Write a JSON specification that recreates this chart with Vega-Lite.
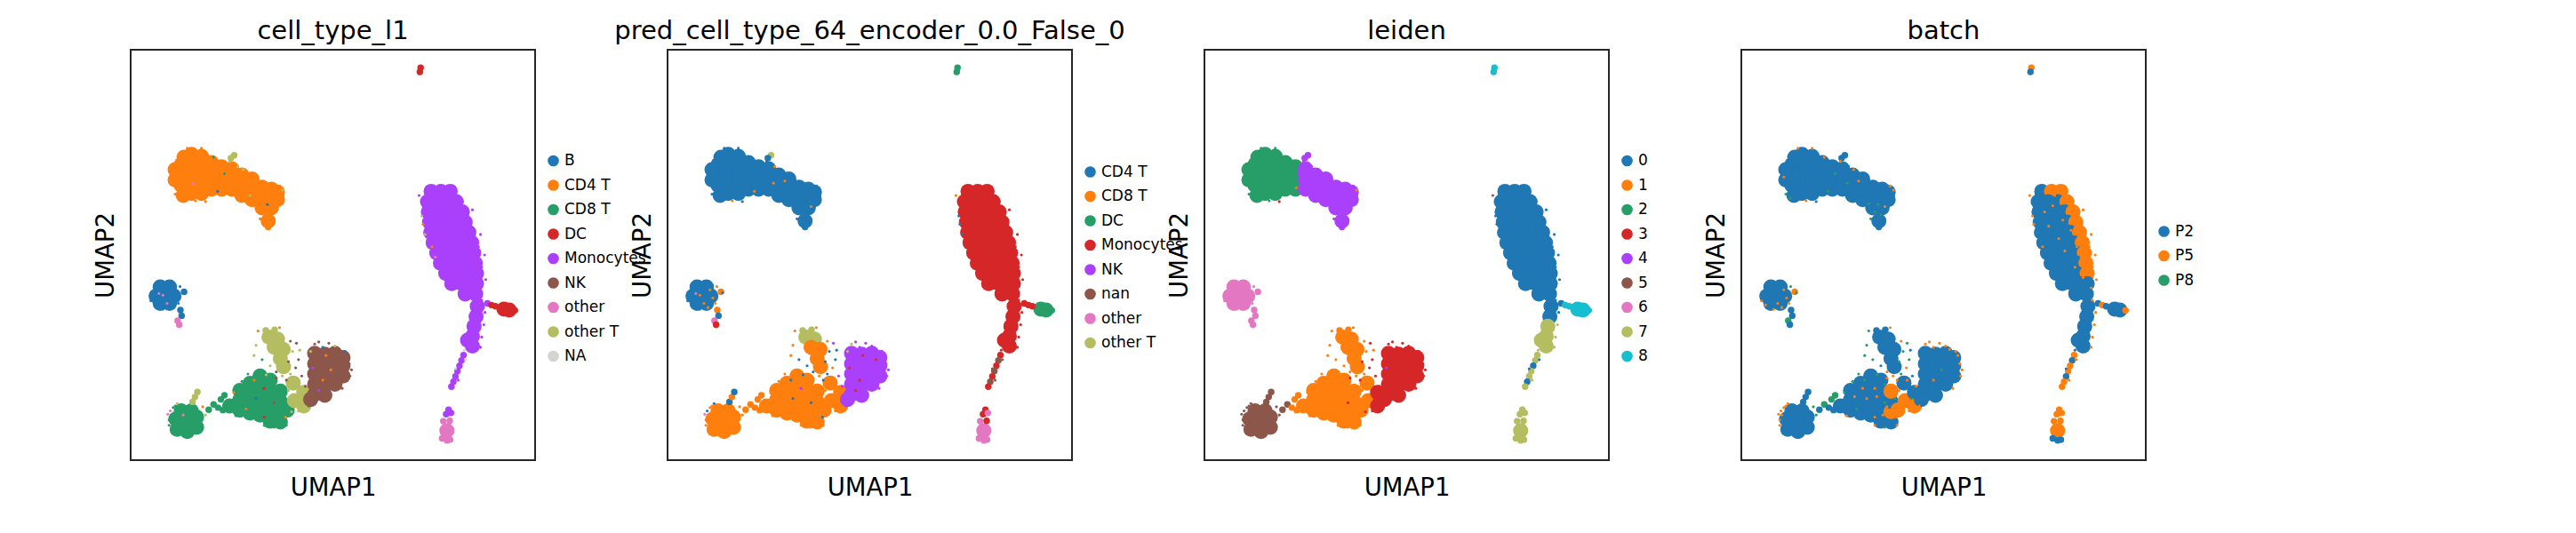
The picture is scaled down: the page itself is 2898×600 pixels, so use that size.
{
"$schema": "https://vega.github.io/schema/vega-lite/v6.json",
"padding": {"left": 104, "top": 20, "right": 5, "bottom": 5},
"bounds": "flush",
"spacing": 149,
"resolve": {"scale": {"color": "independent"}, "legend": {"color": "independent"}},
"config": {
  "font": "DejaVu Sans",
  "view": {"stroke": "#262626", "strokeWidth": 2},
  "axis": {"domain": false, "ticks": false, "labels": false, "grid": false, "titleFontSize": 27.5, "titleFontWeight": "normal", "titleColor": "#000000", "titlePadding": 14, "titleFont": "DejaVu Sans"},
  "axisX": {"titlePadding": 17},
  "title": {"fontSize": 29, "fontWeight": "normal", "color": "#000000", "offset": 6, "font": "DejaVu Sans"},
  "legend": {"orient": "none", "symbolType": "circle", "symbolSize": 160, "symbolOpacity": 1, "symbolStrokeWidth": 0, "labelFontSize": 17, "labelFont": "DejaVu Sans", "labelColor": "#000000", "rowPadding": 9.5, "padding": 0, "labelOffset": 4, "labelLimit": 300}
},
"datasets": {
"core": [
{"x":12.5,"y":67,"ct":"CD4 T","pred":"CD4 T","leiden":"2","batch":"P2"},
{"x":12.5,"y":69.5,"ct":"CD4 T","pred":"CD4 T","leiden":"2","batch":"P2"},
{"x":12.5,"y":72,"ct":"CD4 T","pred":"CD4 T","leiden":"2","batch":"P2"},
{"x":11,"y":68.3,"ct":"CD4 T","pred":"CD4 T","leiden":"2","batch":"P2"},
{"x":11,"y":70.8,"ct":"CD4 T","pred":"CD4 T","leiden":"2","batch":"P2"},
{"x":15,"y":65,"ct":"CD4 T","pred":"CD4 T","leiden":"2","batch":"P2"},
{"x":15,"y":67.5,"ct":"CD4 T","pred":"CD4 T","leiden":"2","batch":"P2"},
{"x":15,"y":70,"ct":"CD4 T","pred":"CD4 T","leiden":"2","batch":"P2"},
{"x":15,"y":72.5,"ct":"CD4 T","pred":"CD4 T","leiden":"2","batch":"P2"},
{"x":15,"y":74.5,"ct":"CD4 T","pred":"CD4 T","leiden":"2","batch":"P2"},
{"x":17.5,"y":65,"ct":"CD4 T","pred":"CD4 T","leiden":"2","batch":"P2"},
{"x":17.5,"y":67.5,"ct":"CD4 T","pred":"CD4 T","leiden":"2","batch":"P2"},
{"x":17.5,"y":70,"ct":"CD4 T","pred":"CD4 T","leiden":"2","batch":"P2"},
{"x":17.5,"y":72.5,"ct":"CD4 T","pred":"CD4 T","leiden":"2","batch":"P2"},
{"x":17.5,"y":74,"ct":"CD4 T","pred":"CD4 T","leiden":"2","batch":"P2"},
{"x":13,"y":64.5,"ct":"CD4 T","pred":"CD4 T","leiden":"2","batch":"P2"},
{"x":13.2,"y":73.8,"ct":"CD4 T","pred":"CD4 T","leiden":"2","batch":"P2"},
{"x":20,"y":66,"ct":"CD4 T","pred":"CD4 T","leiden":"2","batch":"P2"},
{"x":20,"y":68.5,"ct":"CD4 T","pred":"CD4 T","leiden":"2","batch":"P2"},
{"x":20,"y":71,"ct":"CD4 T","pred":"CD4 T","leiden":"2","batch":"P2"},
{"x":20,"y":72.5,"ct":"CD4 T","pred":"CD4 T","leiden":"2","batch":"P2"},
{"x":22.5,"y":66,"ct":"CD4 T","pred":"CD4 T","leiden":"2","batch":"P2"},
{"x":22.5,"y":68.5,"ct":"CD4 T","pred":"CD4 T","leiden":"2","batch":"P2"},
{"x":22.5,"y":71.5,"ct":"CD4 T","pred":"CD4 T","leiden":"2","batch":"P2"},
{"x":25,"y":66,"ct":"CD4 T","pred":"CD4 T","leiden":"4","batch":"P2"},
{"x":25,"y":68.5,"ct":"CD4 T","pred":"CD4 T","leiden":"4","batch":"P2"},
{"x":25,"y":71,"ct":"CD4 T","pred":"CD4 T","leiden":"4","batch":"P2"},
{"x":27.5,"y":64.5,"ct":"CD4 T","pred":"CD4 T","leiden":"4","batch":"P2"},
{"x":27.5,"y":67,"ct":"CD4 T","pred":"CD4 T","leiden":"4","batch":"P2"},
{"x":27.5,"y":69.5,"ct":"CD4 T","pred":"CD4 T","leiden":"4","batch":"P2"},
{"x":30,"y":63.5,"ct":"CD4 T","pred":"CD4 T","leiden":"4","batch":"P2"},
{"x":30,"y":66,"ct":"CD4 T","pred":"CD4 T","leiden":"4","batch":"P2"},
{"x":30,"y":68.5,"ct":"CD4 T","pred":"CD4 T","leiden":"4","batch":"P2"},
{"x":32.5,"y":61.5,"ct":"CD4 T","pred":"CD4 T","leiden":"4","batch":"P2"},
{"x":32.5,"y":64,"ct":"CD4 T","pred":"CD4 T","leiden":"4","batch":"P2"},
{"x":32.5,"y":66.5,"ct":"CD4 T","pred":"CD4 T","leiden":"4","batch":"P2"},
{"x":34.8,"y":61.5,"ct":"CD4 T","pred":"CD4 T","leiden":"4","batch":"P2"},
{"x":34.8,"y":64,"ct":"CD4 T","pred":"CD4 T","leiden":"4","batch":"P2"},
{"x":34.8,"y":66,"ct":"CD4 T","pred":"CD4 T","leiden":"4","batch":"P2"},
{"x":36.3,"y":63.5,"ct":"CD4 T","pred":"CD4 T","leiden":"4","batch":"P2"},
{"x":36.3,"y":65.3,"ct":"CD4 T","pred":"CD4 T","leiden":"4","batch":"P2"},
{"x":34,"y":58.3,"ct":"CD4 T","pred":"CD4 T","leiden":"4","batch":"P2"},
{"x":6.3,"y":40,"ct":"B","pred":"CD4 T","leiden":"6","batch":"P2"},
{"x":8.5,"y":40,"ct":"B","pred":"CD4 T","leiden":"6","batch":"P2"},
{"x":10.7,"y":40,"ct":"B","pred":"CD4 T","leiden":"6","batch":"P2"},
{"x":7.3,"y":42.2,"ct":"B","pred":"CD4 T","leiden":"6","batch":"P2"},
{"x":9.6,"y":42.2,"ct":"B","pred":"CD4 T","leiden":"6","batch":"P2"},
{"x":7.3,"y":38.2,"ct":"B","pred":"CD4 T","leiden":"6","batch":"P2"},
{"x":9.6,"y":38.2,"ct":"B","pred":"CD4 T","leiden":"6","batch":"P2"},
{"x":11.5,"y":7.5,"ct":"CD8 T","pred":"CD8 T","leiden":"5","batch":"P2"},
{"x":14,"y":7,"ct":"CD8 T","pred":"CD8 T","leiden":"5","batch":"P2"},
{"x":16.3,"y":8,"ct":"CD8 T","pred":"CD8 T","leiden":"5","batch":"P2"},
{"x":11.2,"y":10,"ct":"CD8 T","pred":"CD8 T","leiden":"5","batch":"P2"},
{"x":13.7,"y":9.5,"ct":"CD8 T","pred":"CD8 T","leiden":"5","batch":"P2"},
{"x":16.3,"y":10.5,"ct":"CD8 T","pred":"CD8 T","leiden":"5","batch":"P2"},
{"x":12.5,"y":12,"ct":"CD8 T","pred":"CD8 T","leiden":"5","batch":"P2"},
{"x":15,"y":12,"ct":"CD8 T","pred":"CD8 T","leiden":"5","batch":"P2"},
{"x":24.5,"y":13.2,"ct":"CD8 T","pred":"CD8 T","leiden":"1","batch":"P2"},
{"x":27,"y":12.2,"ct":"CD8 T","pred":"CD8 T","leiden":"1","batch":"P2"},
{"x":27,"y":14.7,"ct":"CD8 T","pred":"CD8 T","leiden":"1","batch":"P2"},
{"x":27,"y":17,"ct":"CD8 T","pred":"CD8 T","leiden":"1","batch":"P2"},
{"x":29.5,"y":11.5,"ct":"CD8 T","pred":"CD8 T","leiden":"1","batch":"P2"},
{"x":29.5,"y":14,"ct":"CD8 T","pred":"CD8 T","leiden":"1","batch":"P2"},
{"x":29.5,"y":16.5,"ct":"CD8 T","pred":"CD8 T","leiden":"1","batch":"P2"},
{"x":29.5,"y":18.7,"ct":"CD8 T","pred":"CD8 T","leiden":"1","batch":"P2"},
{"x":32,"y":11,"ct":"CD8 T","pred":"CD8 T","leiden":"1","batch":"P2"},
{"x":32,"y":13.5,"ct":"CD8 T","pred":"CD8 T","leiden":"1","batch":"P2"},
{"x":32,"y":16,"ct":"CD8 T","pred":"CD8 T","leiden":"1","batch":"P2"},
{"x":32,"y":18.5,"ct":"CD8 T","pred":"CD8 T","leiden":"1","batch":"P2"},
{"x":32,"y":20.5,"ct":"CD8 T","pred":"CD8 T","leiden":"1","batch":"P2"},
{"x":34.5,"y":9.5,"ct":"CD8 T","pred":"CD8 T","leiden":"1","batch":"P2"},
{"x":34.5,"y":12,"ct":"CD8 T","pred":"CD8 T","leiden":"1","batch":"P2"},
{"x":34.5,"y":14.5,"ct":"CD8 T","pred":"CD8 T","leiden":"1","batch":"P2"},
{"x":34.5,"y":17,"ct":"CD8 T","pred":"CD8 T","leiden":"1","batch":"P2"},
{"x":34.5,"y":19.5,"ct":"CD8 T","pred":"CD8 T","leiden":"1","batch":"P2"},
{"x":37,"y":9.3,"ct":"CD8 T","pred":"CD8 T","leiden":"1","batch":"P2"},
{"x":37,"y":11.8,"ct":"CD8 T","pred":"CD8 T","leiden":"1","batch":"P5"},
{"x":37,"y":14.3,"ct":"CD8 T","pred":"CD8 T","leiden":"1","batch":"P2"},
{"x":37,"y":16.8,"ct":"CD8 T","pred":"CD8 T","leiden":"1","batch":"P5"},
{"x":38.7,"y":12.2,"ct":"CD8 T","pred":"CD8 T","leiden":"1","batch":"P5"},
{"x":34.2,"y":30,"ct":"other T","pred":"other T","leiden":"1","batch":"P2"},
{"x":36.3,"y":29.5,"ct":"other T","pred":"other T","leiden":"1","batch":"P2"},
{"x":35.5,"y":27.5,"ct":"other T","pred":"CD8 T","leiden":"1","batch":"P2"},
{"x":37.7,"y":27,"ct":"other T","pred":"CD8 T","leiden":"1","batch":"P2"},
{"x":37,"y":24.8,"ct":"other T","pred":"CD8 T","leiden":"1","batch":"P2"},
{"x":37.8,"y":22.8,"ct":"other T","pred":"CD8 T","leiden":"1","batch":"P2"},
{"x":40.2,"y":18.8,"ct":"other T","pred":"CD8 T","leiden":"1","batch":"P2"},
{"x":40.5,"y":14.5,"ct":"other T","pred":"CD8 T","leiden":"1","batch":"P5"},
{"x":42.8,"y":16.5,"ct":"other T","pred":"CD8 T","leiden":"3","batch":"P2"},
{"x":42.8,"y":13.2,"ct":"other T","pred":"CD8 T","leiden":"3","batch":"P5"},
{"x":45.5,"y":16,"ct":"NK","pred":"NK","leiden":"3","batch":"P2"},
{"x":45.5,"y":18.5,"ct":"NK","pred":"NK","leiden":"3","batch":"P2"},
{"x":45.5,"y":21,"ct":"NK","pred":"NK","leiden":"3","batch":"P2"},
{"x":45.5,"y":23.5,"ct":"NK","pred":"NK","leiden":"3","batch":"P2"},
{"x":45.5,"y":26,"ct":"NK","pred":"NK","leiden":"3","batch":"P2"},
{"x":48,"y":15.8,"ct":"NK","pred":"NK","leiden":"3","batch":"P2"},
{"x":48,"y":18.3,"ct":"NK","pred":"NK","leiden":"3","batch":"P2"},
{"x":48,"y":20.8,"ct":"NK","pred":"NK","leiden":"3","batch":"P2"},
{"x":48,"y":23.3,"ct":"NK","pred":"NK","leiden":"3","batch":"P2"},
{"x":48,"y":25.8,"ct":"NK","pred":"NK","leiden":"3","batch":"P2"},
{"x":50.5,"y":18.5,"ct":"NK","pred":"NK","leiden":"3","batch":"P2"},
{"x":50.5,"y":21,"ct":"NK","pred":"NK","leiden":"3","batch":"P2"},
{"x":50.5,"y":23.5,"ct":"NK","pred":"NK","leiden":"3","batch":"P2"},
{"x":50.5,"y":26,"ct":"NK","pred":"NK","leiden":"3","batch":"P2"},
{"x":52.5,"y":20.5,"ct":"NK","pred":"NK","leiden":"3","batch":"P2"},
{"x":52.5,"y":23,"ct":"NK","pred":"NK","leiden":"3","batch":"P2"},
{"x":52.5,"y":25,"ct":"NK","pred":"NK","leiden":"3","batch":"P2"},
{"x":44.5,"y":14.8,"ct":"NK","pred":"NK","leiden":"3","batch":"P2"},
{"x":74.3,"y":65.5,"ct":"Monocytes","pred":"Monocytes","leiden":"0","batch":"P2"},
{"x":76.7,"y":65.5,"ct":"Monocytes","pred":"Monocytes","leiden":"0","batch":"P5"},
{"x":79,"y":65.5,"ct":"Monocytes","pred":"Monocytes","leiden":"0","batch":"P5"},
{"x":73.4,"y":63,"ct":"Monocytes","pred":"Monocytes","leiden":"0","batch":"P2"},
{"x":75.8,"y":63,"ct":"Monocytes","pred":"Monocytes","leiden":"0","batch":"P2"},
{"x":78.2,"y":63,"ct":"Monocytes","pred":"Monocytes","leiden":"0","batch":"P2"},
{"x":80.5,"y":63,"ct":"Monocytes","pred":"Monocytes","leiden":"0","batch":"P5"},
{"x":73.6,"y":60.5,"ct":"Monocytes","pred":"Monocytes","leiden":"0","batch":"P2"},
{"x":75.7,"y":60.5,"ct":"Monocytes","pred":"Monocytes","leiden":"0","batch":"P2"},
{"x":77.8,"y":60.5,"ct":"Monocytes","pred":"Monocytes","leiden":"0","batch":"P2"},
{"x":79.9,"y":60.5,"ct":"Monocytes","pred":"Monocytes","leiden":"0","batch":"P2"},
{"x":82,"y":60.5,"ct":"Monocytes","pred":"Monocytes","leiden":"0","batch":"P5"},
{"x":73.9,"y":58,"ct":"Monocytes","pred":"Monocytes","leiden":"0","batch":"P2"},
{"x":76.1,"y":58,"ct":"Monocytes","pred":"Monocytes","leiden":"0","batch":"P2"},
{"x":78.3,"y":58,"ct":"Monocytes","pred":"Monocytes","leiden":"0","batch":"P2"},
{"x":80.5,"y":58,"ct":"Monocytes","pred":"Monocytes","leiden":"0","batch":"P2"},
{"x":82.7,"y":58,"ct":"Monocytes","pred":"Monocytes","leiden":"0","batch":"P5"},
{"x":74.2,"y":55.5,"ct":"Monocytes","pred":"Monocytes","leiden":"0","batch":"P2"},
{"x":76.5,"y":55.5,"ct":"Monocytes","pred":"Monocytes","leiden":"0","batch":"P2"},
{"x":78.9,"y":55.5,"ct":"Monocytes","pred":"Monocytes","leiden":"0","batch":"P2"},
{"x":81.2,"y":55.5,"ct":"Monocytes","pred":"Monocytes","leiden":"0","batch":"P2"},
{"x":83.6,"y":55.5,"ct":"Monocytes","pred":"Monocytes","leiden":"0","batch":"P5"},
{"x":74.8,"y":53,"ct":"Monocytes","pred":"Monocytes","leiden":"0","batch":"P2"},
{"x":77.2,"y":53,"ct":"Monocytes","pred":"Monocytes","leiden":"0","batch":"P2"},
{"x":79.6,"y":53,"ct":"Monocytes","pred":"Monocytes","leiden":"0","batch":"P2"},
{"x":82,"y":53,"ct":"Monocytes","pred":"Monocytes","leiden":"0","batch":"P2"},
{"x":84.3,"y":53,"ct":"Monocytes","pred":"Monocytes","leiden":"0","batch":"P5"},
{"x":75.7,"y":50.5,"ct":"Monocytes","pred":"Monocytes","leiden":"0","batch":"P2"},
{"x":78,"y":50.5,"ct":"Monocytes","pred":"Monocytes","leiden":"0","batch":"P2"},
{"x":80.3,"y":50.5,"ct":"Monocytes","pred":"Monocytes","leiden":"0","batch":"P2"},
{"x":82.6,"y":50.5,"ct":"Monocytes","pred":"Monocytes","leiden":"0","batch":"P2"},
{"x":84.8,"y":50.5,"ct":"Monocytes","pred":"Monocytes","leiden":"0","batch":"P5"},
{"x":76.6,"y":48,"ct":"Monocytes","pred":"Monocytes","leiden":"0","batch":"P2"},
{"x":78.8,"y":48,"ct":"Monocytes","pred":"Monocytes","leiden":"0","batch":"P2"},
{"x":81,"y":48,"ct":"Monocytes","pred":"Monocytes","leiden":"0","batch":"P2"},
{"x":83.1,"y":48,"ct":"Monocytes","pred":"Monocytes","leiden":"0","batch":"P2"},
{"x":85.2,"y":48,"ct":"Monocytes","pred":"Monocytes","leiden":"0","batch":"P5"},
{"x":77.9,"y":45.5,"ct":"Monocytes","pred":"Monocytes","leiden":"0","batch":"P2"},
{"x":80.4,"y":45.5,"ct":"Monocytes","pred":"Monocytes","leiden":"0","batch":"P2"},
{"x":82.9,"y":45.5,"ct":"Monocytes","pred":"Monocytes","leiden":"0","batch":"P2"},
{"x":85.5,"y":45.5,"ct":"Monocytes","pred":"Monocytes","leiden":"0","batch":"P5"},
{"x":79.4,"y":43,"ct":"Monocytes","pred":"Monocytes","leiden":"0","batch":"P2"},
{"x":81.9,"y":43,"ct":"Monocytes","pred":"Monocytes","leiden":"0","batch":"P2"},
{"x":83.7,"y":43,"ct":"Monocytes","pred":"Monocytes","leiden":"0","batch":"P2"},
{"x":85.5,"y":43,"ct":"Monocytes","pred":"Monocytes","leiden":"0","batch":"P2"},
{"x":82.7,"y":40.5,"ct":"Monocytes","pred":"Monocytes","leiden":"0","batch":"P2"},
{"x":85.3,"y":40.5,"ct":"Monocytes","pred":"Monocytes","leiden":"0","batch":"P2"},
{"x":85.7,"y":37.5,"ct":"Monocytes","pred":"Monocytes","leiden":"0","batch":"P2"},
{"x":85.4,"y":35,"ct":"Monocytes","pred":"Monocytes","leiden":"0","batch":"P2"},
{"x":84.9,"y":32.6,"ct":"Monocytes","pred":"Monocytes","leiden":"7","batch":"P2"},
{"x":84.5,"y":30.2,"ct":"Monocytes","pred":"Monocytes","leiden":"7","batch":"P2"},
{"x":84.5,"y":27.8,"ct":"Monocytes","pred":"Monocytes","leiden":"7","batch":"P2"},
{"x":83.3,"y":29.2,"ct":"Monocytes","pred":"Monocytes","leiden":"7","batch":"P2"},
{"x":92.3,"y":36.8,"ct":"DC","pred":"DC","leiden":"8","batch":"P2"},
{"x":93.6,"y":36.6,"ct":"DC","pred":"DC","leiden":"8","batch":"P2"},
{"x":78.2,"y":7.2,"ct":"other","pred":"other","leiden":"7","batch":"P5"}
],
"fine": [
{"x":34,"y":56.8,"ct":"CD4 T","pred":"CD4 T","leiden":"4","batch":"P2"},
{"x":25.6,"y":74.3,"ct":"other T","pred":"other T","leiden":"4","batch":"P2"},
{"x":24.8,"y":73.6,"ct":"other T","pred":"CD4 T","leiden":"4","batch":"P2"},
{"x":12.3,"y":36.6,"ct":"B","pred":"CD8 T","leiden":"6","batch":"P2"},
{"x":12.6,"y":35.2,"ct":"B","pred":"CD4 T","leiden":"6","batch":"P2"},
{"x":11.6,"y":34,"ct":"other","pred":"other","leiden":"6","batch":"P8"},
{"x":12,"y":33,"ct":"other","pred":"Monocytes","leiden":"6","batch":"P2"},
{"x":13.2,"y":41,"ct":"B","pred":"CD8 T","leiden":"6","batch":"P5"},
{"x":15.3,"y":14.2,"ct":"other T","pred":"CD4 T","leiden":"5","batch":"P2"},
{"x":15.9,"y":15.4,"ct":"other T","pred":"CD8 T","leiden":"5","batch":"P2"},
{"x":16.5,"y":16.6,"ct":"other T","pred":"CD4 T","leiden":"5","batch":"P2"},
{"x":19.3,"y":12.3,"ct":"CD8 T","pred":"CD8 T","leiden":"5","batch":"P2"},
{"x":20.5,"y":13.6,"ct":"CD8 T","pred":"CD8 T","leiden":"5","batch":"P8"},
{"x":21.6,"y":12.8,"ct":"CD8 T","pred":"CD8 T","leiden":"1","batch":"P2"},
{"x":22.3,"y":14.8,"ct":"CD8 T","pred":"CD8 T","leiden":"1","batch":"P8"},
{"x":22.8,"y":12.2,"ct":"CD8 T","pred":"CD8 T","leiden":"1","batch":"P2"},
{"x":23.2,"y":15.8,"ct":"CD8 T","pred":"CD8 T","leiden":"1","batch":"P8"},
{"x":33.4,"y":31.6,"ct":"other T","pred":"other T","leiden":"1","batch":"P2"},
{"x":35.6,"y":31.8,"ct":"other T","pred":"other T","leiden":"1","batch":"P2"},
{"x":82.3,"y":25.6,"ct":"Monocytes","pred":"Monocytes","leiden":"7","batch":"P5"},
{"x":81.8,"y":24.3,"ct":"Monocytes","pred":"nan","leiden":"7","batch":"P2"},
{"x":81.3,"y":23,"ct":"Monocytes","pred":"Monocytes","leiden":"0","batch":"P5"},
{"x":80.8,"y":21.7,"ct":"Monocytes","pred":"nan","leiden":"7","batch":"P5"},
{"x":80.3,"y":20.4,"ct":"Monocytes","pred":"Monocytes","leiden":"7","batch":"P2"},
{"x":79.8,"y":19.1,"ct":"Monocytes","pred":"nan","leiden":"0","batch":"P5"},
{"x":79.3,"y":17.9,"ct":"Monocytes","pred":"Monocytes","leiden":"7","batch":"P5"},
{"x":88.2,"y":38.2,"ct":"Monocytes","pred":"Monocytes","leiden":"0","batch":"P2"},
{"x":89.2,"y":37.8,"ct":"DC","pred":"Monocytes","leiden":"8","batch":"P5"},
{"x":90.2,"y":37.5,"ct":"DC","pred":"Monocytes","leiden":"8","batch":"P2"},
{"x":95,"y":36.5,"ct":"DC","pred":"DC","leiden":"8","batch":"P5"},
{"x":77.3,"y":9.5,"ct":"other","pred":"other","leiden":"7","batch":"P5"},
{"x":78.9,"y":9.6,"ct":"other","pred":"Monocytes","leiden":"7","batch":"P5"},
{"x":77,"y":5.3,"ct":"other","pred":"other","leiden":"7","batch":"P2"},
{"x":79,"y":5,"ct":"other","pred":"other","leiden":"7","batch":"P2"},
{"x":78.2,"y":4.8,"ct":"other","pred":"other","leiden":"7","batch":"P2"},
{"x":78,"y":11.2,"ct":"Monocytes","pred":"Monocytes","leiden":"7","batch":"P5"},
{"x":78.6,"y":12.3,"ct":"Monocytes","pred":"Monocytes","leiden":"7","batch":"P5"},
{"x":79.2,"y":11.5,"ct":"Monocytes","pred":"other","leiden":"7","batch":"P5"},
{"x":71.7,"y":95.6,"ct":"DC","pred":"DC","leiden":"8","batch":"P5"},
{"x":71.5,"y":94.6,"ct":"DC","pred":"DC","leiden":"8","batch":"P2"}
],
"speck": [
{"x":24.5,"y":72.8,"ct":"other T","pred":"CD4 T","leiden":"4","batch":"P5"},
{"x":26.5,"y":71.5,"ct":"other T","pred":"CD8 T","leiden":"4","batch":"P2"},
{"x":23.2,"y":69.8,"ct":"CD8 T","pred":"CD4 T","leiden":"4","batch":"P8"},
{"x":21.5,"y":65.5,"ct":"B","pred":"CD8 T","leiden":"2","batch":"P8"},
{"x":15.5,"y":67.4,"ct":"other","pred":"CD4 T","leiden":"2","batch":"P2"},
{"x":27.8,"y":70.8,"ct":"other T","pred":"CD4 T","leiden":"4","batch":"P5"},
{"x":29,"y":68,"ct":"CD4 T","pred":"CD8 T","leiden":"4","batch":"P5"},
{"x":37.6,"y":65.8,"ct":"other T","pred":"CD4 T","leiden":"1","batch":"P5"},
{"x":31.5,"y":62.5,"ct":"CD4 T","pred":"CD4 T","leiden":"4","batch":"P8"},
{"x":33,"y":60.5,"ct":"CD4 T","pred":"CD4 T","leiden":"4","batch":"P8"},
{"x":34.5,"y":59.8,"ct":"CD4 T","pred":"CD4 T","leiden":"4","batch":"P8"},
{"x":32,"y":58.8,"ct":"CD4 T","pred":"CD4 T","leiden":"4","batch":"P8"},
{"x":35.5,"y":61.8,"ct":"CD4 T","pred":"CD8 T","leiden":"4","batch":"P5"},
{"x":11,"y":64.8,"ct":"CD4 T","pred":"CD4 T","leiden":"2","batch":"P8"},
{"x":12,"y":63.8,"ct":"CD4 T","pred":"CD4 T","leiden":"2","batch":"P8"},
{"x":14,"y":76,"ct":"CD4 T","pred":"CD4 T","leiden":"2","batch":"P5"},
{"x":17.5,"y":76,"ct":"CD4 T","pred":"CD4 T","leiden":"2","batch":"P5"},
{"x":10.5,"y":69,"ct":"CD4 T","pred":"CD4 T","leiden":"2","batch":"P5"},
{"x":18.5,"y":63,"ct":"CD4 T","pred":"CD4 T","leiden":"3","batch":"P2"},
{"x":22.7,"y":66.4,"ct":"CD4 T","pred":"CD4 T","leiden":"1","batch":"P2"},
{"x":29.5,"y":64.5,"ct":"other T","pred":"CD4 T","leiden":"4","batch":"P2"},
{"x":36.8,"y":66.8,"ct":"CD4 T","pred":"CD4 T","leiden":"4","batch":"P5"},
{"x":20.5,"y":73.8,"ct":"CD8 T","pred":"CD4 T","leiden":"2","batch":"P5"},
{"x":16,"y":63.2,"ct":"CD4 T","pred":"CD8 T","leiden":"2","batch":"P5"},
{"x":33.8,"y":62.3,"ct":"B","pred":"CD4 T","leiden":"4","batch":"P8"},
{"x":26.2,"y":67.5,"ct":"CD4 T","pred":"CD8 T","leiden":"4","batch":"P8"},
{"x":8,"y":40.2,"ct":"other","pred":"CD8 T","leiden":"6","batch":"P2"},
{"x":9,"y":38.2,"ct":"other","pred":"CD8 T","leiden":"6","batch":"P5"},
{"x":10.5,"y":41.5,"ct":"B","pred":"CD8 T","leiden":"6","batch":"P5"},
{"x":11.2,"y":39.5,"ct":"B","pred":"CD8 T","leiden":"6","batch":"P5"},
{"x":10,"y":37.2,"ct":"B","pred":"CD8 T","leiden":"6","batch":"P5"},
{"x":6,"y":37.8,"ct":"B","pred":"CD4 T","leiden":"6","batch":"P5"},
{"x":8,"y":36.8,"ct":"B","pred":"CD4 T","leiden":"6","batch":"P5"},
{"x":12.2,"y":42.3,"ct":"B","pred":"CD8 T","leiden":"6","batch":"P8"},
{"x":13.6,"y":40.8,"ct":"B","pred":"CD4 T","leiden":"6","batch":"P8"},
{"x":7,"y":40.6,"ct":"other","pred":"other","leiden":"6","batch":"P2"},
{"x":11.8,"y":38.2,"ct":"B","pred":"CD8 T","leiden":"6","batch":"P5"},
{"x":5,"y":38.8,"ct":"B","pred":"CD4 T","leiden":"6","batch":"P5"},
{"x":9.2,"y":11.2,"ct":"other","pred":"other","leiden":"5","batch":"P5"},
{"x":9.8,"y":12,"ct":"other","pred":"CD4 T","leiden":"5","batch":"P5"},
{"x":10.5,"y":12.8,"ct":"CD8 T","pred":"CD8 T","leiden":"5","batch":"P5"},
{"x":11.5,"y":13.8,"ct":"other T","pred":"CD4 T","leiden":"5","batch":"P5"},
{"x":17.8,"y":13,"ct":"CD4 T","pred":"CD8 T","leiden":"5","batch":"P8"},
{"x":18.5,"y":11,"ct":"other T","pred":"CD8 T","leiden":"5","batch":"P8"},
{"x":13,"y":11,"ct":"other","pred":"CD8 T","leiden":"5","batch":"P2"},
{"x":9.5,"y":8.5,"ct":"CD8 T","pred":"CD8 T","leiden":"5","batch":"P5"},
{"x":10,"y":11,"ct":"CD8 T","pred":"CD8 T","leiden":"5","batch":"P5"},
{"x":9.5,"y":9.8,"ct":"CD8 T","pred":"CD8 T","leiden":"5","batch":"P5"},
{"x":11,"y":13.2,"ct":"CD8 T","pred":"CD8 T","leiden":"5","batch":"P5"},
{"x":25.5,"y":16.5,"ct":"CD4 T","pred":"CD8 T","leiden":"1","batch":"P8"},
{"x":28.5,"y":12.5,"ct":"CD4 T","pred":"CD8 T","leiden":"1","batch":"P8"},
{"x":31,"y":15,"ct":"B","pred":"CD4 T","leiden":"1","batch":"P5"},
{"x":33,"y":17.5,"ct":"DC","pred":"NK","leiden":"1","batch":"P5"},
{"x":35.5,"y":14,"ct":"NK","pred":"CD4 T","leiden":"3","batch":"P8"},
{"x":30.5,"y":19.5,"ct":"CD4 T","pred":"CD4 T","leiden":"1","batch":"P8"},
{"x":33.5,"y":20.8,"ct":"other T","pred":"CD4 T","leiden":"1","batch":"P8"},
{"x":36,"y":21.5,"ct":"NK","pred":"CD4 T","leiden":"1","batch":"P5"},
{"x":38.5,"y":19.5,"ct":"NK","pred":"CD4 T","leiden":"3","batch":"P5"},
{"x":39.5,"y":21,"ct":"other T","pred":"CD4 T","leiden":"1","batch":"P8"},
{"x":40.8,"y":22.5,"ct":"NK","pred":"CD8 T","leiden":"3","batch":"P5"},
{"x":41.5,"y":24.5,"ct":"NK","pred":"CD4 T","leiden":"3","batch":"P8"},
{"x":40,"y":26.5,"ct":"other T","pred":"CD4 T","leiden":"1","batch":"P8"},
{"x":39.5,"y":29,"ct":"NK","pred":"CD8 T","leiden":"1","batch":"P5"},
{"x":41,"y":28.5,"ct":"NK","pred":"NK","leiden":"3","batch":"P8"},
{"x":42.3,"y":20.5,"ct":"NK","pred":"NK","leiden":"3","batch":"P2"},
{"x":43.2,"y":18,"ct":"NK","pred":"NK","leiden":"3","batch":"P5"},
{"x":31.5,"y":31.5,"ct":"CD4 T","pred":"CD8 T","leiden":"1","batch":"P8"},
{"x":36.8,"y":32.3,"ct":"CD4 T","pred":"CD8 T","leiden":"1","batch":"P5"},
{"x":31,"y":28,"ct":"other T","pred":"CD8 T","leiden":"1","batch":"P8"},
{"x":30.5,"y":25.5,"ct":"other T","pred":"CD8 T","leiden":"1","batch":"P8"},
{"x":32.5,"y":24.5,"ct":"CD8 T","pred":"CD4 T","leiden":"1","batch":"P8"},
{"x":34.5,"y":23,"ct":"other T","pred":"CD4 T","leiden":"1","batch":"P2"},
{"x":36,"y":20,"ct":"NK","pred":"CD8 T","leiden":"3","batch":"P5"},
{"x":38.3,"y":10.5,"ct":"CD4 T","pred":"CD4 T","leiden":"1","batch":"P5"},
{"x":39.8,"y":11.8,"ct":"other T","pred":"CD8 T","leiden":"3","batch":"P5"},
{"x":26,"y":10.8,"ct":"CD8 T","pred":"CD8 T","leiden":"1","batch":"P5"},
{"x":35.5,"y":8,"ct":"CD8 T","pred":"CD8 T","leiden":"1","batch":"P8"},
{"x":33,"y":10.5,"ct":"DC","pred":"CD8 T","leiden":"1","batch":"P5"},
{"x":41.8,"y":26.8,"ct":"other T","pred":"CD4 T","leiden":"1","batch":"P2"},
{"x":39,"y":24,"ct":"NK","pred":"CD4 T","leiden":"3","batch":"P8"},
{"x":29,"y":21,"ct":"CD8 T","pred":"CD8 T","leiden":"1","batch":"P8"},
{"x":27.5,"y":19.2,"ct":"CD8 T","pred":"CD8 T","leiden":"1","batch":"P8"},
{"x":35,"y":11,"ct":"CD8 T","pred":"CD8 T","leiden":"1","batch":"P5"},
{"x":36,"y":13,"ct":"CD8 T","pred":"CD8 T","leiden":"1","batch":"P5"},
{"x":38,"y":15,"ct":"CD8 T","pred":"CD8 T","leiden":"1","batch":"P8"},
{"x":39,"y":17,"ct":"other T","pred":"CD8 T","leiden":"1","batch":"P5"},
{"x":41,"y":19.5,"ct":"other T","pred":"CD8 T","leiden":"1","batch":"P5"},
{"x":42,"y":15,"ct":"other T","pred":"CD8 T","leiden":"3","batch":"P8"},
{"x":41.5,"y":12,"ct":"other T","pred":"CD8 T","leiden":"3","batch":"P5"},
{"x":44,"y":13.2,"ct":"NK","pred":"NK","leiden":"3","batch":"P5"},
{"x":33.5,"y":15.5,"ct":"CD8 T","pred":"CD8 T","leiden":"1","batch":"P5"},
{"x":35.5,"y":18.5,"ct":"CD8 T","pred":"CD8 T","leiden":"1","batch":"P8"},
{"x":37.5,"y":20.5,"ct":"other T","pred":"CD8 T","leiden":"1","batch":"P5"},
{"x":30,"y":17.5,"ct":"CD8 T","pred":"CD8 T","leiden":"1","batch":"P5"},
{"x":28,"y":15.5,"ct":"CD8 T","pred":"CD8 T","leiden":"1","batch":"P5"},
{"x":33,"y":8.5,"ct":"CD8 T","pred":"CD8 T","leiden":"1","batch":"P5"},
{"x":38.5,"y":8.5,"ct":"CD8 T","pred":"CD8 T","leiden":"1","batch":"P5"},
{"x":47.5,"y":27.5,"ct":"B","pred":"NK","leiden":"3","batch":"P5"},
{"x":50.5,"y":27.8,"ct":"other T","pred":"NK","leiden":"3","batch":"P5"},
{"x":53,"y":26.5,"ct":"B","pred":"NK","leiden":"3","batch":"P5"},
{"x":54,"y":23.5,"ct":"NK","pred":"NK","leiden":"3","batch":"P5"},
{"x":54.2,"y":20.5,"ct":"NK","pred":"NK","leiden":"3","batch":"P5"},
{"x":52.3,"y":17.5,"ct":"NK","pred":"NK","leiden":"3","batch":"P5"},
{"x":51.5,"y":27,"ct":"NK","pred":"NK","leiden":"3","batch":"P5"},
{"x":53.5,"y":25.5,"ct":"NK","pred":"NK","leiden":"3","batch":"P5"},
{"x":46.5,"y":28.8,"ct":"NK","pred":"NK","leiden":"3","batch":"P5"},
{"x":54.6,"y":22,"ct":"NK","pred":"NK","leiden":"3","batch":"P5"},
{"x":48.3,"y":25.5,"ct":"CD4 T","pred":"Monocytes","leiden":"3","batch":"P2"},
{"x":45,"y":22.5,"ct":"Monocytes","pred":"Monocytes","leiden":"4","batch":"P2"},
{"x":47.5,"y":19.5,"ct":"CD4 T","pred":"Monocytes","leiden":"3","batch":"P5"},
{"x":46.5,"y":17,"ct":"Monocytes","pred":"Monocytes","leiden":"3","batch":"P2"},
{"x":44.5,"y":26.5,"ct":"other T","pred":"other T","leiden":"3","batch":"P2"},
{"x":49.5,"y":22,"ct":"CD4 T","pred":"NK","leiden":"3","batch":"P8"},
{"x":51.5,"y":24.5,"ct":"NK","pred":"Monocytes","leiden":"3","batch":"P2"},
{"x":45.5,"y":28.3,"ct":"NK","pred":"other T","leiden":"3","batch":"P5"},
{"x":49,"y":28.5,"ct":"NK","pred":"NK","leiden":"3","batch":"P5"},
{"x":72.3,"y":57.5,"ct":"CD4 T","pred":"CD4 T","leiden":"0","batch":"P5"},
{"x":72.8,"y":55,"ct":"other T","pred":"CD4 T","leiden":"0","batch":"P2"},
{"x":74.5,"y":52,"ct":"CD4 T","pred":"Monocytes","leiden":"0","batch":"P5"},
{"x":75.3,"y":49.5,"ct":"other","pred":"Monocytes","leiden":"0","batch":"P2"},
{"x":71.3,"y":64.5,"ct":"Monocytes","pred":"CD8 T","leiden":"5","batch":"P5"},
{"x":72,"y":59.5,"ct":"other T","pred":"CD4 T","leiden":"0","batch":"P5"},
{"x":77,"y":62,"ct":"Monocytes","pred":"Monocytes","leiden":"0","batch":"P5"},
{"x":79.5,"y":58.5,"ct":"Monocytes","pred":"Monocytes","leiden":"0","batch":"P5"},
{"x":81.5,"y":56,"ct":"Monocytes","pred":"Monocytes","leiden":"0","batch":"P5"},
{"x":83,"y":52,"ct":"Monocytes","pred":"Monocytes","leiden":"0","batch":"P5"},
{"x":84,"y":49.5,"ct":"Monocytes","pred":"Monocytes","leiden":"0","batch":"P5"},
{"x":80,"y":51,"ct":"Monocytes","pred":"Monocytes","leiden":"0","batch":"P5"},
{"x":82.5,"y":47,"ct":"Monocytes","pred":"Monocytes","leiden":"0","batch":"P5"},
{"x":84.5,"y":44.5,"ct":"Monocytes","pred":"Monocytes","leiden":"0","batch":"P5"},
{"x":86.5,"y":42,"ct":"Monocytes","pred":"Monocytes","leiden":"0","batch":"P5"},
{"x":86.8,"y":47,"ct":"Monocytes","pred":"Monocytes","leiden":"0","batch":"P5"},
{"x":86,"y":52,"ct":"Monocytes","pred":"Monocytes","leiden":"0","batch":"P5"},
{"x":85,"y":56,"ct":"Monocytes","pred":"Monocytes","leiden":"0","batch":"P5"},
{"x":83.5,"y":59,"ct":"Monocytes","pred":"Monocytes","leiden":"0","batch":"P5"},
{"x":76,"y":57,"ct":"Monocytes","pred":"Monocytes","leiden":"0","batch":"P5"},
{"x":78.5,"y":54,"ct":"Monocytes","pred":"Monocytes","leiden":"0","batch":"P5"},
{"x":75,"y":60.5,"ct":"Monocytes","pred":"Monocytes","leiden":"0","batch":"P5"},
{"x":81,"y":61,"ct":"Monocytes","pred":"Monocytes","leiden":"0","batch":"P5"},
{"x":77.5,"y":64.5,"ct":"Monocytes","pred":"Monocytes","leiden":"0","batch":"P5"},
{"x":80,"y":64.5,"ct":"Monocytes","pred":"Monocytes","leiden":"0","batch":"P5"},
{"x":86.8,"y":39,"ct":"Monocytes","pred":"Monocytes","leiden":"0","batch":"P5"},
{"x":82,"y":63,"ct":"Monocytes","pred":"Monocytes","leiden":"0","batch":"P5"},
{"x":84.5,"y":61,"ct":"Monocytes","pred":"Monocytes","leiden":"0","batch":"P5"},
{"x":86.5,"y":55,"ct":"Monocytes","pred":"Monocytes","leiden":"0","batch":"P5"},
{"x":87.5,"y":50,"ct":"Monocytes","pred":"Monocytes","leiden":"0","batch":"P5"},
{"x":87.8,"y":44,"ct":"Monocytes","pred":"Monocytes","leiden":"0","batch":"P5"},
{"x":87.3,"y":33,"ct":"Monocytes","pred":"Monocytes","leiden":"7","batch":"P5"},
{"x":86.8,"y":30,"ct":"Monocytes","pred":"Monocytes","leiden":"7","batch":"P5"},
{"x":86.5,"y":27.5,"ct":"Monocytes","pred":"Monocytes","leiden":"7","batch":"P5"},
{"x":82.8,"y":24.5,"ct":"NA","pred":"nan","leiden":"0","batch":"P5"},
{"x":80.3,"y":22.3,"ct":"NA","pred":"nan","leiden":"0","batch":"P2"},
{"x":81,"y":19.5,"ct":"Monocytes","pred":"nan","leiden":"7","batch":"P5"},
{"x":82.5,"y":26.8,"ct":"NA","pred":"Monocytes","leiden":"7","batch":"P2"},
{"x":87.6,"y":36,"ct":"Monocytes","pred":"Monocytes","leiden":"0","batch":"P5"}
]
},
"hconcat": [
{
 "width": 455, "height": 462, "title": "cell_type_l1",
 "encoding": {
  "x": {"field": "x", "type": "quantitative", "scale": {"domain": [0, 100], "nice": false, "zero": false}, "axis": {"title": "UMAP1"}},
  "y": {"field": "y", "type": "quantitative", "scale": {"domain": [0, 100], "nice": false, "zero": false}, "axis": {"title": "UMAP2"}},
  "color": {"field": "ct", "type": "nominal", "scale": {"domain": ["B","CD4 T","CD8 T","DC","Monocytes","NK","other","other T","NA"], "range": ["#1f77b4","#ff7f0e","#279e68","#d62728","#aa40fc","#8c564b","#e377c2","#b5bd61","#d3d3d3"]}, "legend": {"title": null, "legendX": 467, "legendY": 116.5, "encode": {"symbols": {"update": {"size": {"value": 160}, "opacity": {"value": 1}}}}}}
 },
 "layer": [
  {"data": {"name": "core"}, "mark": {"type": "circle", "size": 290, "opacity": 1}},
  {"data": {"name": "fine"}, "mark": {"type": "circle", "size": 55, "opacity": 1}},
  {"data": {"name": "speck"}, "mark": {"type": "circle", "size": 10, "opacity": 1}}
 ]
},
{
 "width": 455, "height": 462, "title": "pred_cell_type_64_encoder_0.0_False_0",
 "encoding": {
  "x": {"field": "x", "type": "quantitative", "scale": {"domain": [0, 100], "nice": false, "zero": false}, "axis": {"title": "UMAP1"}},
  "y": {"field": "y", "type": "quantitative", "scale": {"domain": [0, 100], "nice": false, "zero": false}, "axis": {"title": "UMAP2"}},
  "color": {"field": "pred", "type": "nominal", "scale": {"domain": ["CD4 T","CD8 T","DC","Monocytes","NK","nan","other","other T"], "range": ["#1f77b4","#ff7f0e","#279e68","#d62728","#aa40fc","#8c564b","#e377c2","#b5bd61"]}, "legend": {"title": null, "legendX": 467, "legendY": 129, "encode": {"symbols": {"update": {"size": {"value": 160}, "opacity": {"value": 1}}}}}}
 },
 "layer": [
  {"data": {"name": "core"}, "mark": {"type": "circle", "size": 290, "opacity": 1}},
  {"data": {"name": "fine"}, "mark": {"type": "circle", "size": 55, "opacity": 1}},
  {"data": {"name": "speck"}, "mark": {"type": "circle", "size": 10, "opacity": 1}}
 ]
},
{
 "width": 455, "height": 462, "title": "leiden",
 "encoding": {
  "x": {"field": "x", "type": "quantitative", "scale": {"domain": [0, 100], "nice": false, "zero": false}, "axis": {"title": "UMAP1"}},
  "y": {"field": "y", "type": "quantitative", "scale": {"domain": [0, 100], "nice": false, "zero": false}, "axis": {"title": "UMAP2"}},
  "color": {"field": "leiden", "type": "nominal", "scale": {"domain": ["0","1","2","3","4","5","6","7","8"], "range": ["#1f77b4","#ff7f0e","#279e68","#d62728","#aa40fc","#8c564b","#e377c2","#b5bd61","#17becf"]}, "legend": {"title": null, "legendX": 467, "legendY": 116.5, "encode": {"symbols": {"update": {"size": {"value": 160}, "opacity": {"value": 1}}}}}}
 },
 "layer": [
  {"data": {"name": "core"}, "mark": {"type": "circle", "size": 290, "opacity": 1}},
  {"data": {"name": "fine"}, "mark": {"type": "circle", "size": 55, "opacity": 1}},
  {"data": {"name": "speck"}, "mark": {"type": "circle", "size": 10, "opacity": 1}}
 ]
},
{
 "width": 455, "height": 462, "title": "batch",
 "encoding": {
  "x": {"field": "x", "type": "quantitative", "scale": {"domain": [0, 100], "nice": false, "zero": false}, "axis": {"title": "UMAP1"}},
  "y": {"field": "y", "type": "quantitative", "scale": {"domain": [0, 100], "nice": false, "zero": false}, "axis": {"title": "UMAP2"}},
  "color": {"field": "batch", "type": "nominal", "scale": {"domain": ["P2","P5","P8"], "range": ["#1f77b4","#ff7f0e","#279e68"]}, "legend": {"title": null, "legendX": 467, "legendY": 196, "encode": {"symbols": {"update": {"size": {"value": 160}, "opacity": {"value": 1}}}}}}
 },
 "layer": [
  {"data": {"name": "core"}, "mark": {"type": "circle", "size": 290, "opacity": 1}},
  {"data": {"name": "fine"}, "mark": {"type": "circle", "size": 55, "opacity": 1}},
  {"data": {"name": "speck"}, "mark": {"type": "circle", "size": 10, "opacity": 1}}
 ]
}
]
}
